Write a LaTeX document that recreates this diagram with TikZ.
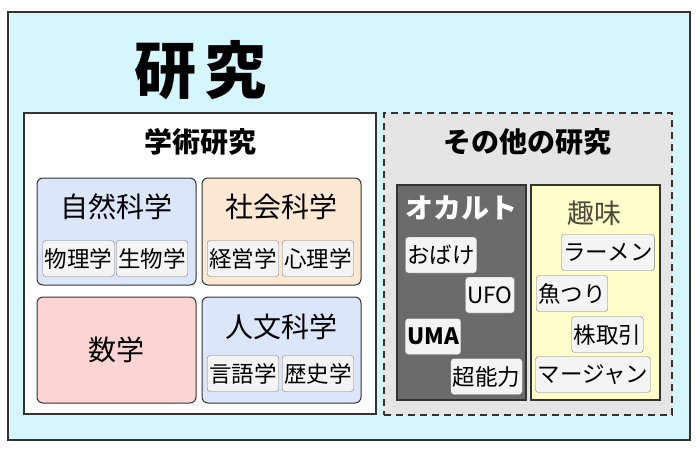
\documentclass[tikz,border=0pt]{standalone}
\usepackage{fontspec}
\setmainfont{Noto Sans CJK JP}
\usetikzlibrary{positioning}
\definecolor{skylt}{HTML}{D6F6FD}
\definecolor{bluelt}{HTML}{DCE6FA}
\definecolor{peachlt}{HTML}{FDE8D3}
\definecolor{pinklt}{HTML}{FDD4D4}
\definecolor{greylt}{HTML}{E5E5E5}
\definecolor{occult}{HTML}{6B6B6B}
\definecolor{yellowlt}{HTML}{FFFFCC}
\definecolor{taglt}{HTML}{F4F4F4}
\definecolor{tagline}{HTML}{7A7A7A}
\definecolor{edge}{HTML}{333333}
\definecolor{olive}{HTML}{4A4A3A}
\newcommand{\fsz}[1]{\fontsize{#1}{#1}\selectfont}
\tikzset{
  panel/.style={draw=edge, inner sep=0pt, line width=1.3pt},
  field/.style={draw=edge, rounded corners=6pt, line width=1pt, inner sep=0pt,
                minimum width=159pt, minimum height=107pt},
  column/.style={draw=edge, line width=1.2pt, inner sep=0pt,
                 minimum width=129pt, minimum height=215pt},
  tag/.style={draw=tagline, fill=taglt, rounded corners=3pt, inner xsep=2pt,
              inner ysep=0pt, minimum height=36pt, font=\fsz{22.5}},
  head/.style={font=\fsz{28}\bfseries},
  lbl/.style={font=\fsz{28}}
}
\begin{document}
\begin{tikzpicture}[x=1pt,y=-1pt]
  \useasboundingbox (0,0) rectangle (700,450);
  \fill[white] (0,0) rectangle (700,450);

  \node[panel, fill=skylt, minimum width=682pt, minimum height=428pt] (research) at (349,226) {};
  \node[font=\fsz{62}\bfseries] (title) at (200,70) {研\hspace{8pt}究};

  % academic research
  \node[panel, fill=white, minimum width=352pt, minimum height=301pt] (academic) at (200,263.5) {};
  \node[head] (academichead) at (200,142) {学術研究};

  \node[field, fill=bluelt] (natural) at (116.5,231.5) {};
  \node[lbl] (naturallbl) at (116.5,207) {自然科学};
  \node[tag] (physics) at (78.5,258.5) {物理学};
  \node[tag] (biology) at (152,258.5) {生物学};

  \node[field, fill=peachlt] (social) at (281.5,231.5) {};
  \node[lbl] (sociallbl) at (281.5,207) {社会科学};
  \node[tag] (business) at (243,258.5) {経営学};
  \node[tag] (psychology) at (318,258.5) {心理学};

  \node[field, fill=pinklt, minimum height=106pt, font=\fsz{28}] (math) at (116.5,350) {数学};

  \node[field, fill=bluelt, minimum height=106pt] (humanities) at (281.5,350) {};
  \node[lbl] (humanitieslbl) at (281.5,327) {人文科学};
  \node[tag] (linguistics) at (243,373.5) {言語学};
  \node[tag] (history) at (318,373.5) {歴史学};

  % other research
  \node[panel, fill=greylt, draw=edge, dash pattern=on 7pt off 5pt, line width=1.5pt,
        minimum width=288pt, minimum height=302pt] (other) at (528,264) {};
  \node[head] (otherhead) at (527,142) {その他の研究};

  \node[column, fill=occult] (occultcol) at (461.5,292.5) {};
  \node[head, text=white] (occultlbl) at (461,208) {オカルト};
  \node[tag] (ghost) at (441,255) {おばけ};
  \node[tag] (ufo) at (490,295) {UFO};
  \node[tag, font=\fsz{22.5}\bfseries] (uma) at (433,336.5) {UMA};
  \node[tag] (psychic) at (486.5,376.5) {超能力};

  \node[column, fill=yellowlt] (hobbycol) at (595.5,292.5) {};
  \node[lbl, text=olive, font=\fsz{27}] (hobbylbl) at (594,213) {趣味};
  \node[tag] (ramen) at (608,252.5) {ラーメン};
  \node[tag] (fishing) at (572,293.5) {魚つり};
  \node[tag] (stocks) at (607.5,334.5) {株取引};
  \node[tag] (mahjong) at (593,374.5) {マージャン};
\end{tikzpicture}
\end{document}
